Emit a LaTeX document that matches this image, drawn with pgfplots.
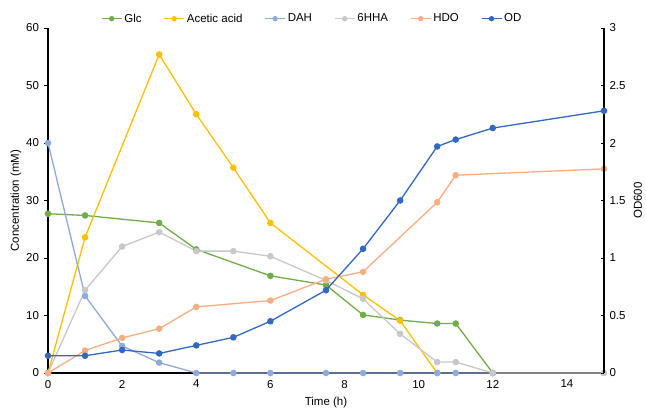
\documentclass[border=0pt]{standalone}
\usepackage{pgfplots}
\pgfplotsset{compat=1.18}
\usepackage{fontspec}
\setmainfont{Liberation Sans}

\definecolor{cglc}{HTML}{70AD47}
\definecolor{cace}{HTML}{FFC000}
\definecolor{cdah}{HTML}{8FAADC}
\definecolor{chha}{HTML}{C8C8C8}
\definecolor{chdo}{HTML}{F8AE80}
\definecolor{cod}{HTML}{3169C2}

\pgfplotsset{
  every axis/.append style={
    scale only axis, width=556pt, height=345pt,
    xmin=0, xmax=15, clip=false,
    font=\fontsize{11.5}{13}\selectfont,
    /pgf/number format/assume math mode=true,
    axis line style={line width=1.3pt, black},
    major tick length=3.5pt,
    xtick={0,2,...,14},
    xtick style={draw=none},
    ytick style={line width=1pt, black},
  },
  ser/.style={line width=1.3pt, color=#1, mark=*, mark size=2.6pt, mark options={fill=#1, draw=#1}},
}

\begin{document}
\begin{tikzpicture}
\path[use as bounding box] (-48pt,-35pt) rectangle (598pt,373pt);
\begin{axis}[
  axis x line*=bottom, axis y line*=left,
  ymin=0, ymax=60, ytick={0,10,...,60},
  tick align=outside,
  yticklabel style={xshift=-2pt},
  xlabel={Time (h)},
  xlabel style={at={(axis description cs:0.5,-0.086)}, anchor=center},
  ylabel={Concentration (mM)},
  ylabel style={at={(axis description cs:-0.0576,0.5)}, anchor=center},
  legend columns=6,
  legend style={draw=none, fill=none, inner sep=0pt,
    at={(axis description cs:0.095,1.027)}, anchor=west,
    font=\fontsize{11.5}{13}\selectfont,
    /tikz/every odd column/.append style={column sep=0pt},
    /tikz/every even column/.append style={column sep=20pt}},
  legend image code/.code={\draw[#1] (-2pt,0pt) -- (18pt,0pt); \draw[#1, mark size=2pt] plot coordinates {(8pt,0pt)};},
]
\addplot[ser=cglc] coordinates {(0,27.7)(1,27.4)(3,26.1)(4,21.5)(6,16.9)(7.5,15.3)(8.5,10.1)(9.5,9.2)(10.5,8.6)(11,8.6)(12,0)};
\addlegendentry{Glc}
\addplot[ser=cace] coordinates {(0,0)(1,23.6)(3,55.4)(4,45.0)(5,35.7)(6,26.1)(8.5,13.6)(9.5,9.1)(10.5,0)};
\addlegendentry{Acetic acid}
\addplot[ser=cdah] coordinates {(0,40)(1,13.4)(2,4.7)(3,1.8)(4,0)(5,0)(6,0)(7.5,0)(8.5,0)(9.5,0)(10.5,0)(11,0)(12,0)};
\addlegendentry{DAH}
\addplot[ser=chha] coordinates {(0,0)(1,14.4)(2,22.0)(3,24.5)(4,21.2)(5,21.2)(6,20.3)(7.5,16.1)(8.5,12.9)(9.5,6.8)(10.5,1.9)(11,1.9)(12,0)(15,0)};
\addlegendentry{6HHA}
\addplot[ser=chdo] coordinates {(0,0)(1,3.9)(2,6.1)(3,7.7)(4,11.5)(6,12.6)(7.5,16.3)(8.5,17.6)(10.5,29.7)(11,34.4)(15,35.5)};
\addlegendentry{HDO}
\addlegendimage{ser=cod}
\addlegendentry{OD}
\end{axis}
\begin{axis}[
  axis x line=none, axis y line*=right,
  ymin=0, ymax=3, ytick={0,0.5,...,3},
  tick align=inside,
  yticklabel style={xshift=2pt},
  ylabel={OD600},
  ylabel style={at={(axis description cs:1.0612,0.5)}, anchor=center},
]
\addplot[ser=cod] coordinates {(0,0.15)(1,0.15)(2,0.20)(3,0.17)(4,0.24)(5,0.31)(6,0.45)(7.5,0.72)(8.5,1.08)(9.5,1.50)(10.5,1.97)(11,2.03)(12,2.13)(15,2.28)};
\end{axis}
\end{tikzpicture}
\end{document}
